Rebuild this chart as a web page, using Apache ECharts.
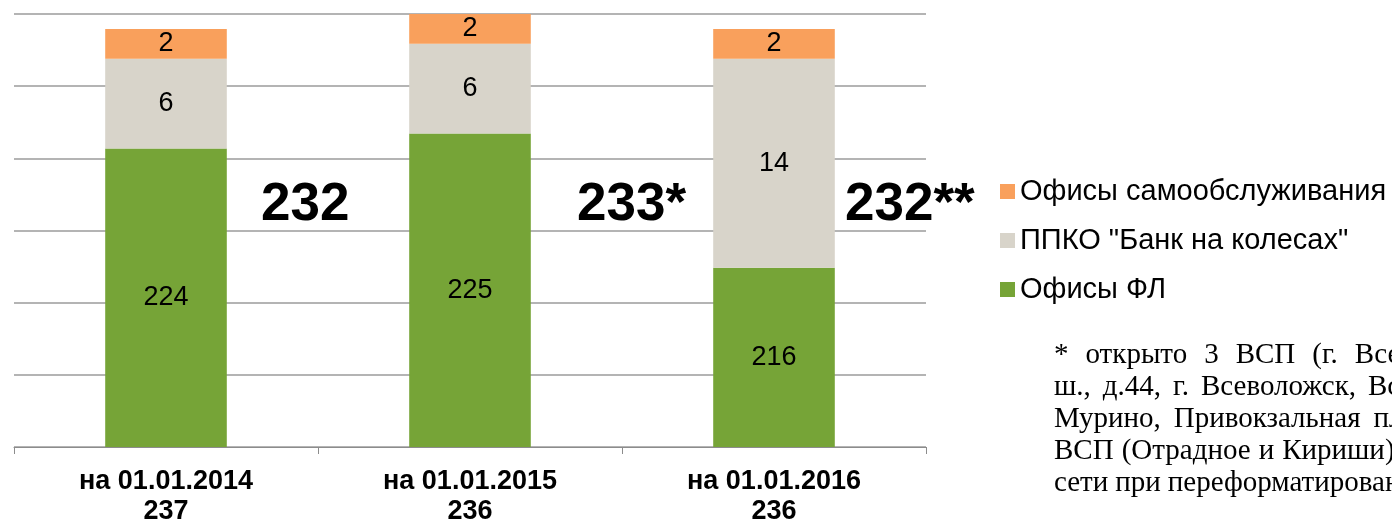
<!DOCTYPE html>
<html>
<head>
<meta charset="utf-8">
<script src="https://cdn.jsdelivr.net/npm/echarts@6/dist/echarts.min.js"></script>
<style>
  html, body { margin: 0; padding: 0; background: #fff; }
  #chart { width: 1392px; height: 524px; }
</style>
</head>
<body>
<div id="chart"></div>
<script>
const dates = ["на 01.01.2014", "на 01.01.2015", "на 01.01.2016"];
const yearTotals = ["237", "236", "236"];
const officesFL = [224, 225, 216];
const mobileOffices = [6, 6, 14];
const selfService = [2, 2, 2];
const networkTotals = ["232", "233*", "232**"];
const seriesNames = ["Офисы ФЛ", 'ППКО "Банк на колесах"', "Офисы самообслуживания"];
const colors = ["#76a437", "#d8d4ca", "#f9a05c"];
const footnote = [
    "* открыто 3 ВСП (г. Всеволожск, Колтушское",
    "ш., д.44, г. Всеволожск, Всеволожский пр.,",
    "Мурино, Привокзальная пл., д.5), закрыто 2",
    "ВСП (Отрадное и Кириши), оптимизация",
    "сети при переформатировании"
];
// justified lines: gap between words on each line
const footnoteGaps = [17, 12, 13, 8, 7];

const font = "Liberation Sans, Arial, sans-serif";
const noteFont = "29px Liberation Serif, Times New Roman, serif";
let chart = echarts.init(document.getElementById("chart"), null, { renderer: "canvas" });

const barLabel = {
    show: true,
    position: "inside",
    color: "#000",
    fontFamily: font,
    fontSize: 27
};

const stacks = [officesFL, mobileOffices, selfService];
const series = stacks.map((vals, i) => ({
    type: "bar",
    name: seriesNames[i],
    stack: "all",
    barWidth: "40%",
    data: vals,
    itemStyle: { color: colors[i] },
    label: barLabel
}));

// hidden axis only for the 6 even grid lines
series.push({ type: "line", yAxisIndex: 1, data: [], silent: true });

const graphic = [];
networkTotals.forEach((t, i) => {
    graphic.push({
        type: "text",
        left: [261, 577, 845][i],
        top: 179,
        style: { text: t, font: "bold 53px " + font, fill: "#000" }
    });
});

// word by word so the note looks justified like the original
const ctx = document.createElement("canvas").getContext("2d");
ctx.font = noteFont;
footnote.forEach((line, i) => {
    let x = 1054;
    line.split(" ").forEach(word => {
        graphic.push({
            type: "text",
            left: x,
            top: 341 + i * 32,
            style: { text: word, font: noteFont, fill: "#000" }
        });
        x += ctx.measureText(word).width + footnoteGaps[i];
    });
});

chart.setOption({
    animation: false,
    grid: { left: 14, right: 466, top: 14, bottom: 77, outerBoundsMode: "none", containLabel: false },
    xAxis: {
        type: "category",
        data: dates.map((d, i) => d + "\n" + yearTotals[i]),
        axisLine: { lineStyle: { color: "#8c8c8c" } },
        axisTick: { show: true, length: 7, lineStyle: { color: "#8c8c8c" } },
        axisLabel: {
            color: "#000",
            fontFamily: font,
            fontWeight: "bold",
            fontSize: 27,
            lineHeight: 30,
            margin: 20
        }
    },
    yAxis: [
        {
            type: "value",
            min: 204,
            max: 233,
            startValue: 204,
            axisLabel: { show: false },
            axisLine: { show: false },
            axisTick: { show: false },
            splitLine: { show: false }
        },
        {
            type: "value",
            min: 0,
            max: 6,
            interval: 1,
            position: "left",
            axisLabel: { show: false },
            axisLine: { show: false },
            axisTick: { show: false },
            splitLine: { show: true, lineStyle: { color: "#9b9b9b", width: 1.5 } }
        }
    ],
    legend: {
        orient: "vertical",
        left: 995,
        top: 172,
        data: seriesNames.slice().reverse(),
        icon: "rect",
        itemWidth: 15,
        itemHeight: 15,
        itemGap: 20,
        textStyle: { color: "#000", fontFamily: font, fontSize: 29, lineHeight: 29 }
    },
    graphic: graphic,
    series: series
});
</script>
</body>
</html>
